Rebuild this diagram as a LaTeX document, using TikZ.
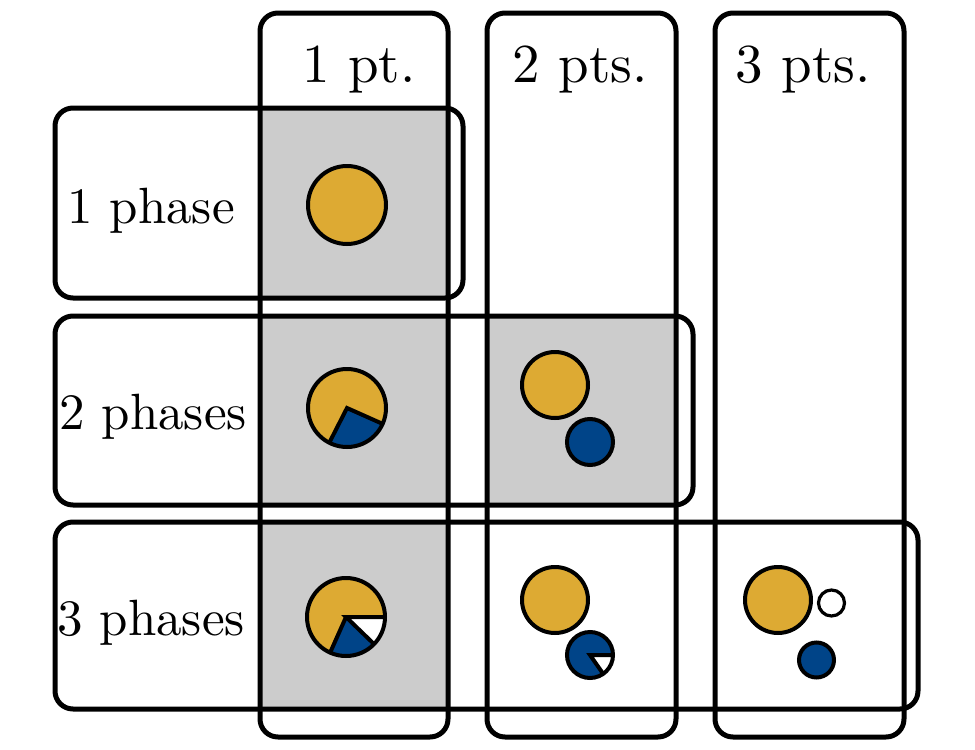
\documentclass[tikz,border=0pt]{standalone}
\usepackage{fontspec}
\setmainfont{lmroman10-regular.otf}
\definecolor{tolyellow}{HTML}{DDAA33}
\definecolor{tolblue}{HTML}{004488}
\definecolor{cellgray}{HTML}{CCCCCC}
\begin{document}
\begin{tikzpicture}[x=0.5pt,y=-0.5pt,
  frame/.style={line width=2.5pt, rounded corners=9pt},
  cell/.style={fill=cellgray},
  disc/.style={line width=2pt, draw=black},
  pieline/.style={line width=2pt},
  lbl/.style={font=\fontsize{25.5}{30}\selectfont, anchor=base, inner sep=0pt},
  collbl/.style={font=\fontsize{27.5}{32}\selectfont, anchor=base, inner sep=0pt}]
\useasboundingbox (0,0) rectangle (975,750);
% shaded cells
\fill[cell] (260,108) rectangle (448,298);
\fill[cell] (260,316) rectangle (448,505);
\fill[cell] (260,522) rectangle (448,709);
\fill[cell] (487,316) rectangle (676,505);
% columns
\draw[frame] (260,13) rectangle (448,737);
\draw[frame] (487,13) rectangle (676,737);
\draw[frame] (715,13) rectangle (904,737);
% rows
\draw[frame] (55,108) rectangle (463,298);
\draw[frame] (55,316) rectangle (693,505);
\draw[frame] (55,522) rectangle (918,709);
% labels
\node[collbl] (c1) at (359,82) {1 pt.};
\node[collbl] (c2) at (580,82) {2 pts.};
\node[collbl] (c3) at (803,82) {3 pts.};
\node[lbl] (r1) at (151,223) {1 phase};
\node[lbl] (r2) at (153,429) {2 phases};
\node[lbl] (r3) at (151,635) {3 phases};
% row 1, col 1
\draw[disc, fill=tolyellow] (347,205) circle[radius=39];
% row 2, col 1 pie
\coordinate (p21) at (347,408);
\fill[tolyellow] (p21) circle[radius=39];
\fill[tolblue] (p21) -- ++(24:39) arc[start angle=24, end angle=117, radius=39] -- cycle;
\draw[pieline] (p21) ++(24:39) -- (p21) -- ++(117:39);
\draw[disc] (p21) circle[radius=39];
% row 2, col 2
\draw[disc, fill=tolyellow] (555,385) circle[radius=33];
\draw[disc, fill=tolblue] (590,442) circle[radius=23];
% row 3, col 1 pie
\coordinate (p31) at (346,617);
\fill[tolyellow] (p31) circle[radius=39];
\fill[white] (p31) -- ++(0:39) arc[start angle=0, end angle=44, radius=39] -- cycle;
\fill[tolblue] (p31) -- ++(44:39) arc[start angle=44, end angle=114, radius=39] -- cycle;
\draw[pieline] (p31) ++(0:39) -- (p31) -- ++(44:39);
\draw[pieline] (p31) -- ++(114:39);
\draw[disc] (p31) circle[radius=39];
% row 3, col 2
\draw[disc, fill=tolyellow] (555,600) circle[radius=33];
\coordinate (p32) at (590,655);
\fill[tolblue] (p32) circle[radius=23];
\fill[white] (p32) -- ++(0:23) arc[start angle=0, end angle=55, radius=23] -- cycle;
\draw[pieline] (p32) ++(0:23) -- (p32) -- ++(55:23);
\draw[disc] (p32) circle[radius=23];
% row 3, col 3
\draw[disc, fill=tolyellow] (778,600) circle[radius=33];
\draw[disc, fill=white, line width=1.6pt] (831.5,603) circle[radius=13];
\draw[disc, fill=tolblue] (816.5,660) circle[radius=17.5];
\end{tikzpicture}
\end{document}
